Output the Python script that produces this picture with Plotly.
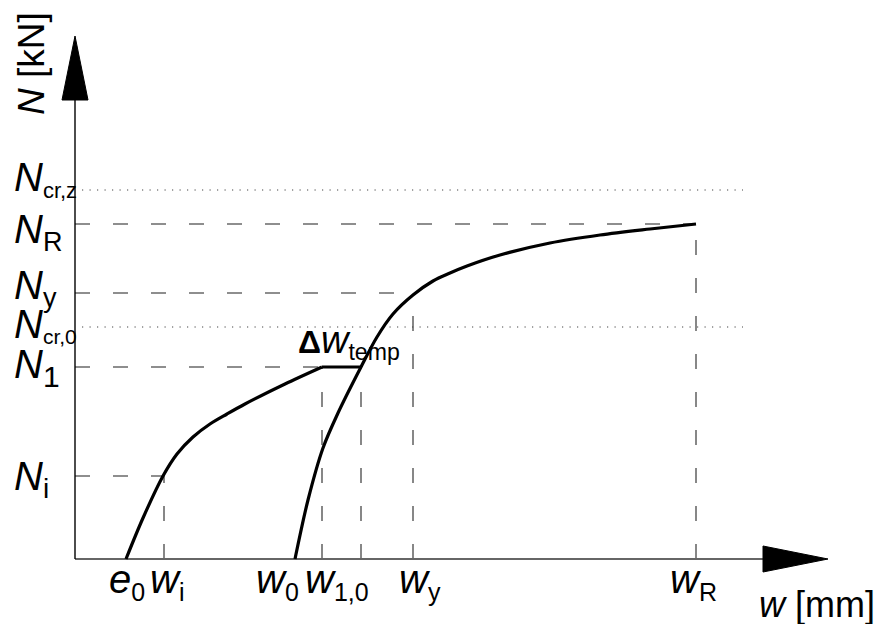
import plotly.graph_objects as go

W_PX, H_PX = 879, 624

# ---------------- data (schematic values) ----------------
# deflections w [mm] at the marked points on the horizontal axis
tick_main = ["e", "w", "w", "w", "w", "w"]
tick_sub = ["0", "i", "0", "1,0", "y", "R"]
tick_w = [1.04, 1.78, 4.40, 4.94, 6.76, 12.42]
w_temp_end = 5.72

# axial forces N [kN] marked on the vertical axis
N_sub = ["i", "1", "cr,0", "y", "R", "cr,z"]
N_vals = [83, 192, 232, 266, 335, 369]

# curve 1: loading from the initial imperfection e0 up to N1
curve1_w = [1.02, 1.36, 1.76, 2.04, 2.36, 2.70, 3.04, 3.40, 4.20, 4.94]
curve1_N = [0, 41, 83, 105, 122, 135, 145, 155, 175, 192]
# curve 2: from w0 up to the resistance N_R
curve2_w = [4.40, 4.66, 4.96, 5.26, 5.72, 6.04, 6.36, 6.76, 7.16, 7.50, 7.84, 8.50, 9.50, 10.50, 11.50, 12.42]
curve2_N = [0, 59, 111, 146, 192, 222, 245, 264, 278, 286, 293, 304, 316, 324, 330, 335]

# ---------------- layout constants ----------------
X_RANGE = [-1.5, 16.08]
Y_RANGE = [-65, 559]
AXIS_X_END, AXIS_X_TIP = 13.76, 15.06
AXIS_Y_END, AXIS_Y_TIP = 459, 523
ARROW_HALF_X = 0.26
ARROW_HALF_Y = 13
DOT_START, DOT_END = 0.14, 13.36

FONT = "Liberation Sans, Arial, sans-serif"
ASC = 0.905  # font ascent (em)
MAIN = 40    # size of the main italic letters


def px_y(n):
    return (Y_RANGE[1] - n) / (Y_RANGE[1] - Y_RANGE[0]) * H_PX


Ni, N1, Ncr0, Ny, NR, Ncrz = N_vals
e0, wi, w0, w10, wy, wR = tick_w

fig = go.Figure()

# dashed guide lines
hx, hy = [], []
for n, wend in [(Ni, wi), (N1, w10), (Ny, wy), (NR, wR)]:
    hx += [0, wend, None]
    hy += [n, n, None]
for w, ntop in [(wi, Ni), (w10, N1), (w_temp_end, N1), (wy, Ny), (wR, NR)]:
    hx += [w, w, None]
    hy += [0, ntop, None]
fig.add_trace(go.Scatter(x=hx, y=hy, mode="lines",
                         line=dict(color="#6a6a6a", width=1.6, dash="15px,23px"),
                         hoverinfo="skip", showlegend=False))

# dotted critical-load lines
dx, dy = [], []
for n in [Ncr0, Ncrz]:
    dx += [DOT_START, DOT_END, None]
    dy += [n, n, None]
fig.add_trace(go.Scatter(x=dx, y=dy, mode="lines",
                         line=dict(color="#444444", width=1.2, dash="1.2px,6.3px"),
                         hoverinfo="skip", showlegend=False))

# axes
fig.add_trace(go.Scatter(x=[0, AXIS_X_END], y=[0, 0], mode="lines",
                         line=dict(color="#666666", width=2), hoverinfo="skip", showlegend=False))
fig.add_trace(go.Scatter(x=[0, 0], y=[0, AXIS_Y_END], mode="lines",
                         line=dict(color="#000000", width=1.4), hoverinfo="skip", showlegend=False))
# arrow heads
fig.add_trace(go.Scatter(x=[AXIS_X_END, AXIS_X_TIP, AXIS_X_END, AXIS_X_END],
                         y=[-ARROW_HALF_Y, 0, ARROW_HALF_Y, -ARROW_HALF_Y],
                         mode="lines", fill="toself", fillcolor="black",
                         line=dict(color="black", width=1), hoverinfo="skip", showlegend=False))
fig.add_trace(go.Scatter(x=[-ARROW_HALF_X, 0, ARROW_HALF_X, -ARROW_HALF_X],
                         y=[AXIS_Y_END, AXIS_Y_TIP, AXIS_Y_END, AXIS_Y_END],
                         mode="lines", fill="toself", fillcolor="black",
                         line=dict(color="black", width=1), hoverinfo="skip", showlegend=False))

# curves
fig.add_trace(go.Scatter(x=curve1_w, y=curve1_N, mode="lines",
                         line=dict(color="black", width=3.2, shape="spline", smoothing=0.9),
                         hoverinfo="skip", showlegend=False))
fig.add_trace(go.Scatter(x=curve2_w, y=curve2_N, mode="lines",
                         line=dict(color="black", width=3.2, shape="spline", smoothing=0.9),
                         hoverinfo="skip", showlegend=False))
fig.add_trace(go.Scatter(x=[w10, w_temp_end], y=[N1, N1], mode="lines",
                         line=dict(color="black", width=3.2), hoverinfo="skip", showlegend=False))

annotations = []

# N labels on the vertical axis
N_label_dy = [13, 10, 10, 5, 18, 0]      # baseline offset below the line (px)
N_sub_size = [28, 30, 21, 27, 27, 22]    # subscript font size (px)
for s, n, ddy, ss in zip(N_sub, N_vals, N_label_dy, N_sub_size):
    base = px_y(n) + ddy
    top = base - ASC * MAIN - 1
    annotations.append(dict(
        text=f'<span style="font-size:{MAIN}px"><i>N</i></span><sub>{s}</sub>',
        xref="paper", yref="paper", x=12 / W_PX, y=1 - top / H_PX,
        xanchor="left", yanchor="top", showarrow=False,
        font=dict(family=FONT, size=ss / 0.7, color="black")))

# tick labels on the horizontal axis
tick_xshift = [0, 3, -18, 15, 7, -3]
for m, s, w, xs in zip(tick_main, tick_sub, tick_w, tick_xshift):
    top = 592 - ASC * MAIN - 1
    annotations.append(dict(
        text=f'<span style="font-size:{MAIN}px"><i>{m}</i></span><sub>{s}</sub>',
        xref="x", yref="paper", x=w, y=1 - top / H_PX, xshift=xs,
        xanchor="center", yanchor="top", showarrow=False,
        font=dict(family=FONT, size=25 / 0.7, color="black")))

# delta w_temp label
top = 352 - ASC * 38 - 1
annotations.append(dict(
    text='<b><span style="font-size:32px">Δ</span></b><span style="font-size:38px"><i>w</i></span><sub>temp</sub>',
    xref="paper", yref="paper", x=296 / W_PX, y=1 - top / H_PX,
    xanchor="left", yanchor="top", showarrow=False,
    font=dict(family=FONT, size=33, color="black")))

# axis titles
top = 616 - ASC * 36 - 1
annotations.append(dict(
    text="<i>w</i> [mm]", xref="paper", yref="paper", x=877 / W_PX, y=1 - top / H_PX,
    xanchor="right", yanchor="top", showarrow=False,
    font=dict(family=FONT, size=36, color="black")))
annotations.append(dict(
    text="<i>N</i> [kN]", xref="paper", yref="paper", x=32 / W_PX, y=1 - 64 / H_PX,
    xanchor="center", yanchor="middle", textangle=-90, showarrow=False,
    font=dict(family=FONT, size=37, color="black")))

fig.update_layout(
    width=W_PX, height=H_PX,
    margin=dict(l=0, r=0, t=0, b=0),
    paper_bgcolor="white", plot_bgcolor="white",
    xaxis=dict(range=X_RANGE, visible=False, fixedrange=True),
    yaxis=dict(range=Y_RANGE, visible=False, fixedrange=True),
    annotations=annotations,
    showlegend=False,
)

fig.write_html("out.html", config={"displayModeBar": False})
